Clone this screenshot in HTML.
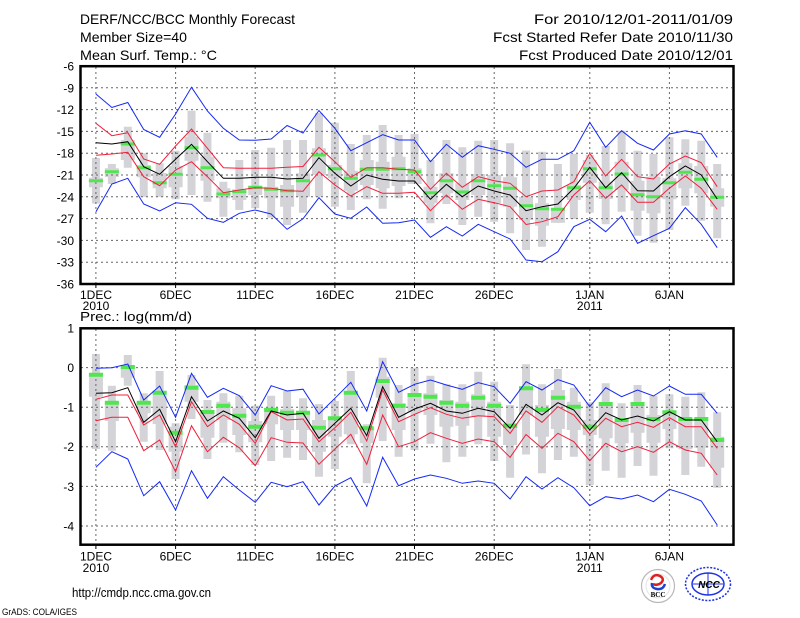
<!DOCTYPE html>
<html><head><meta charset="utf-8"><style>
html,body{margin:0;padding:0;background:#fff;}
svg{display:block;}
text{font-family:"Liberation Sans",sans-serif;fill:#000;}
</style></head><body>
<svg width="800" height="618" viewBox="0 0 800 618" xmlns="http://www.w3.org/2000/svg">
<rect width="800" height="618" fill="#fff"/>
<!-- Header -->
<g font-size="14">
<text x="80" y="24" textLength="215" lengthAdjust="spacingAndGlyphs">DERF/NCC/BCC Monthly Forecast</text>
<text x="80" y="42" textLength="107" lengthAdjust="spacingAndGlyphs">Member Size=40</text>
<text x="80" y="60" textLength="137" lengthAdjust="spacingAndGlyphs">Mean Surf. Temp.: °C</text>
<text x="534" y="24" textLength="199" lengthAdjust="spacingAndGlyphs">For 2010/12/01-2011/01/09</text>
<text x="493" y="42" textLength="240" lengthAdjust="spacingAndGlyphs">Fcst Started Refer Date 2010/11/30</text>
<text x="519" y="60" textLength="214" lengthAdjust="spacingAndGlyphs">Fcst Produced Date 2010/12/01</text>
</g>

<!-- ===== TOP CHART ===== -->
<g transform="translate(95.93,0) scale(15.93,1)" fill="none">
<path vector-effect="non-scaling-stroke" stroke="#d4d4d8" stroke-width="8" d="M0 158V203.5M1 164V184M2 126.7V167.7M3 153.3V196.7M4 163.3V196.7M5 150.7V199.3M6 110.7V195M7 132.7V201.7M8 181.7V216.7M9 160V210M10 150V208.3M11 147.7V217.7M12 140V225M13 140V212.7M14 113V196.7M15 122.7V206.7M16 144V210M17 135V199.3M18 125V208.7M19 135V198.3M20 134V183.3M21 160V223.3M22 140V204M23 147.3V225M24 140.7V216.7M25 140V221.7M26 143.3V233.3M27 150.5V250M28 151.7V246.7M29 164V222.7M30 154V219M31 155V212.7M32 146V224.3M33 130.7V211.7M34 150.7V235.7M35 154V242.7M36 137.3V230M37 139.3V205.7M38 140.7V220.7M39 164V238.3"/>
<path vector-effect="non-scaling-stroke" stroke="#d4d4d8" stroke-width="14" d="M0 177.7V187.3M1 168.3V177M2 140V160M3 165V177.3M4 173V188.3M5 166V187.3M6 136.7V160.7M7 156.7V180.7M8 188.3V198.3M9 189.3V200M10 186V195M11 186.7V198.3M12 185V206.7M13 173.3V196.7M14 148.3V175M15 165V178.3M16 170.7V190.7M17 160V185M18 161.7V188.3M19 156.7V186M20 168.3V184M21 186.7V203.3M22 173.3V193.3M23 183.3V200M24 174V195M25 175V203.3M26 177.3V206.7M27 197V220M28 203.3V225.7M29 208.3V222.7M30 185V200M31 160V182.7M32 181.7V199M33 161.7V190M34 180.7V210.7M35 176.7V213.3M36 178.3V199.3M37 163.3V188.3M38 166V193.3M39 188.3V206.7"/>
</g>
<!-- top grid -->
<g stroke="#666" stroke-width="1" stroke-dasharray="2,3" fill="none">
<path d="M81 87.8H732M81 109.6H732M81 131.4H732M81 153.2H732M81 175H732M81 196.8H732M81 218.6H732M81 240.4H732M81 262.2H732"/>
<path d="M95.9 67V283M175.6 67V283M255.2 67V283M334.9 67V283M414.5 67V283M494.2 67V283M589.8 67V283M669.4 67V283"/>
</g>
<g transform="translate(95.93,0) scale(15.93,1)" fill="none">
<path vector-effect="non-scaling-stroke" stroke="#50e650" stroke-width="3" d="M-.44 180.7h.88M.56 171.7h.88M1.56 144h.88M2.56 167.7h.88M3.56 182.7h.88M4.56 174.3h.88M5.56 147.7h.88M6.56 167.7h.88M7.56 194h.88M8.56 191.7h.88M9.56 187.3h.88M10.56 189.3h.88M11.56 190.7h.88M12.56 180.7h.88M13.56 155h.88M14.56 168.7h.88M15.56 178.3h.88M16.56 169.3h.88M17.56 169.3h.88M18.56 168.7h.88M19.56 171.7h.88M20.56 192.7h.88M21.56 180.7h.88M22.56 192h.88M23.56 180.7h.88M24.56 185.7h.88M25.56 188.3h.88M26.56 205.7h.88M27.56 208.7h.88M28.56 209.3h.88M29.56 187.7h.88M30.56 168.7h.88M31.56 187.7h.88M32.56 174h.88M33.56 194.7h.88M34.56 196.7h.88M35.56 182.7h.88M36.56 172.3h.88M37.56 179.3h.88M38.56 197.3h.88"/>
<polyline vector-effect="non-scaling-stroke" stroke="#1428f5" stroke-width="1" points="0,94 1,107.5 2,102.5 3,129.5 4,137.3 5,114 6,87.3 7,111 8,128.3 9,140 10,140.3 11,139 12,125.5 13,133 14,110.5 15,128.3 16,150.7 17,142.7 18,134.7 19,140 20,140 21,161.7 22,144.3 23,157.3 24,145.7 25,149.3 26,153.3 27,167.3 28,159.3 29,159.3 30,150.7 31,122.3 32,147.3 33,130.7 34,143.3 35,150 36,134 37,130.7 38,134 39,157.3"/>
<polyline vector-effect="non-scaling-stroke" stroke="#1428f5" stroke-width="1" points="0,211.7 1,184 2,178.3 3,204 4,211 5,202.7 6,204.3 7,218.3 8,222.3 9,213.3 10,210 11,214 12,229.3 13,218.8 14,197.7 15,214 16,218.3 17,207 18,223.3 19,222.7 20,220 21,237.3 22,226.7 23,236 24,224.3 25,231.7 26,239 27,260 28,261.7 29,251.7 30,226.7 31,219.3 32,231.7 33,216 34,243.3 35,235.7 36,228.3 37,207.7 38,224.3 39,247.7"/>
<polyline vector-effect="non-scaling-stroke" stroke="#f0203c" stroke-width="1" points="0,123.3 1,135.7 2,132.7 3,159 4,164.3 5,146 6,129 7,148.3 8,167.7 9,168.3 10,168.3 11,168.3 12,167.3 13,166.5 14,147.3 15,161.7 16,177.3 17,167.7 18,167.7 19,169.3 20,170 21,189.3 22,173.3 23,187.3 24,176.7 25,180.7 26,183.3 27,196.7 28,191 29,190 30,181.7 31,153.3 32,176 33,159.3 34,176.7 35,179 36,164 37,156 38,162.7 39,186.7"/>
<polyline vector-effect="non-scaling-stroke" stroke="#f0203c" stroke-width="1" points="0,155.3 1,154 2,152.3 3,176.7 4,185.7 5,170 6,161.7 7,176.7 8,192.7 9,190 10,187.7 11,188.3 12,190.7 13,191.2 14,171.7 15,185 16,196 17,186.7 18,193.3 19,193.3 20,192.3 21,210.7 22,195 23,209.3 24,199.3 25,202.7 26,206.7 27,224.5 28,221.7 29,216.7 30,195 31,180.7 32,198.3 33,185 34,202.3 35,202.3 36,188.3 37,176 38,188.3 39,209.3"/>
<polyline vector-effect="non-scaling-stroke" stroke="#000" stroke-width="1" points="0,142.7 1,144 2,141.7 3,166.7 4,174.3 5,159.3 6,144.3 7,161.7 8,178.3 9,178.3 10,177.3 11,177.3 12,179 13,178.3 14,157.7 15,173.3 16,186 17,175 18,179.3 19,181 20,181 21,199.3 22,184.3 23,196.7 24,186 25,191 26,195 27,210.7 28,206.7 29,204 30,188.3 31,167.3 32,187.7 33,172.7 34,190.7 35,191 36,176.7 37,166 38,175 39,199"/>
</g>
<rect x="80.5" y="66.2" width="653" height="217.8" fill="none" stroke="#000" stroke-width="2.5"/>
<path d="M95.9 285V288M175.6 285V288M255.2 285V288M334.9 285V288M414.5 285V288M494.2 285V288M589.8 285V288M669.4 285V288" stroke="#000" stroke-width="1"/>
<g font-size="12" text-anchor="end">
<text x="74" y="70.5">-6</text><text x="74" y="92.3">-9</text><text x="74" y="114.1">-12</text><text x="74" y="135.9">-15</text><text x="74" y="157.7">-18</text><text x="74" y="179.5">-21</text><text x="74" y="201.3">-24</text><text x="74" y="223.1">-27</text><text x="74" y="244.9">-30</text><text x="74" y="266.7">-33</text><text x="74" y="288.5">-36</text>
</g>
<g font-size="12" text-anchor="middle">
<text x="96" y="299">1DEC</text><text x="96" y="310">2010</text>
<text x="175.6" y="299">6DEC</text><text x="255.2" y="299">11DEC</text><text x="334.9" y="299">16DEC</text><text x="414.5" y="299">21DEC</text><text x="494.2" y="299">26DEC</text>
<text x="589.8" y="299">1JAN</text><text x="589.8" y="310">2011</text><text x="669.4" y="299">6JAN</text>
</g>

<!-- ===== BOTTOM CHART ===== -->
<text x="80" y="321" font-size="13" textLength="112" lengthAdjust="spacingAndGlyphs">Prec.: log(mm/d)</text>
<g transform="translate(95.93,0) scale(15.93,1)" fill="none">
<path vector-effect="non-scaling-stroke" stroke="#d4d4d8" stroke-width="8" d="M0 354V449M1 385.7V450.7M2 355V385.7M3 393.3V441.7M4 371V450M5 423.3V479M6 375V419M7 400V459M8 393.3V442.7M9 395.7V452.3M10 405.7V465M11 395.7V461M12 391V457.7M13 398.3V460M14 404V476.7M15 401V469M16 371V444.3M17 424.3V483.3M18 357.7V441M19 385V456.7M20 367.7V450M21 375.7V443.7M22 384.3V462.3M23 384.3V456.7M24 371.7V444.3M25 381.7V461M26 405V477.7M27 364.3V454.5M28 384.3V473.3M29 369V460M30 387.7V456.7M31 402.3V485M32 383.3V470.7M33 403.3V477.7M34 385V466M35 395.7V475.7M36 394.3V448.3M37 396.7V475M38 392.3V466.7M39 412.3V487.7"/>
<path vector-effect="non-scaling-stroke" stroke="#d4d4d8" stroke-width="14" d="M0 373.3V396.7M1 401.7V421M2 365V377.7M3 401.7V413.3M4 391V424M5 426.7V451.7M6 385V401.7M7 410V437.7M8 401.7V420M9 408.3V435M10 421V442.3M11 407.7V424.3M12 409V430M13 411.7V430M14 420V451.7M15 418.3V436.7M16 391V434.3M17 428.3V443.3M18 376.7V397.7M19 403.3V430M20 393.3V411.7M21 393.3V415M22 400V426.7M23 401.7V425.7M24 394.3V416.7M25 401.7V436.7M26 423.3V445M27 387V415M28 405V436.7M29 390V429M30 401.7V430M31 420V435M32 405V438.3M33 421.7V443.3M34 405V432.7M35 415V442.7M36 411V429M37 418.3V449.3M38 418.3V447.7M39 436.7V467.7"/>
</g>
<g stroke="#666" stroke-width="1" stroke-dasharray="2,3" fill="none">
<path d="M81 367.6H732M81 407.2H732M81 446.8H732M81 486.4H732M81 526H732"/>
<path d="M95.9 329V544M175.6 329V544M255.2 329V544M334.9 329V544M414.5 329V544M494.2 329V544M589.8 329V544M669.4 329V544"/>
</g>
<g transform="translate(95.93,0) scale(15.93,1)" fill="none">
<path vector-effect="non-scaling-stroke" stroke="#50e650" stroke-width="4" d="M-.44 374.7h.88M.56 402.7h.88M1.56 367h.88M2.56 402.7h.88M3.56 392.7h.88M4.56 432.7h.88M5.56 387.7h.88M6.56 412h.88M7.56 405.7h.88M8.56 415.7h.88M9.56 426.7h.88M10.56 410h.88M11.56 412.7h.88M12.56 412.7h.88M13.56 427.7h.88M14.56 418.3h.88M15.56 392.7h.88M16.56 428.3h.88M17.56 381h.88M18.56 405.7h.88M19.56 395h.88M20.56 396.7h.88M21.56 402.7h.88M22.56 405.7h.88M23.56 397.7h.88M24.56 405.7h.88M25.56 425.7h.88M26.56 388.3h.88M27.56 410h.88M28.56 397.7h.88M29.56 406.7h.88M30.56 426.7h.88M31.56 404h.88M32.56 420h.88M33.56 404h.88M34.56 419h.88M35.56 412.3h.88M36.56 419h.88M37.56 419h.88M38.56 440h.88"/>
<polyline vector-effect="non-scaling-stroke" stroke="#1428f5" stroke-width="1" points="0,368.3 1,367.7 2,364 3,400 4,386 5,417.3 6,373.3 7,397.3 8,388.3 9,395.7 10,415 11,385.7 12,391 13,389.2 14,414 15,398.3 16,382.3 17,411 18,361.7 19,392.3 20,384.3 21,380 22,385 23,389.3 24,382.7 25,386.7 26,403.3 27,381.7 28,390 29,379.7 30,385 31,406.7 32,387.7 33,396.7 34,390 35,396 36,386 37,394.3 38,394.3 39,413.3"/>
<polyline vector-effect="non-scaling-stroke" stroke="#1428f5" stroke-width="1" points="0,467.3 1,451.7 2,459 3,495.7 4,481.7 5,510 6,470.7 7,498.3 8,476.7 9,490 10,502.3 11,482.3 12,486.7 13,481.7 14,505 15,486 16,477.7 17,506 18,457.3 19,485.7 20,479 21,475 22,478.3 23,483.3 24,481 25,483.3 26,499 27,476.7 28,489 29,477.7 30,487.7 31,505.7 32,496.7 33,499 34,495 35,501.7 36,489.3 37,494.3 38,501 39,525"/>
<polyline vector-effect="non-scaling-stroke" stroke="#f0203c" stroke-width="1" points="0,399.3 1,395 2,395 3,425 4,415 5,446.7 6,401.7 7,426.7 8,415 9,424.3 10,443.3 11,411.7 12,420 13,419 14,441.7 15,427.7 16,412.3 17,441 18,390 19,421.7 20,414.3 21,407.7 22,414.3 23,418.3 24,415.7 25,416.7 26,433.3 27,411 28,422.3 29,406.7 30,415 31,434.3 32,418.3 33,426.7 34,422.3 35,427.3 36,417.7 37,426.7 38,426.7 39,448.3"/>
<polyline vector-effect="non-scaling-stroke" stroke="#f0203c" stroke-width="1" points="0,420.7 1,417.3 2,417.3 3,450.7 4,440 5,471.7 6,425.7 7,451.7 8,437.3 9,447.7 10,465.7 11,437.7 12,442.3 13,443 14,464.3 15,449 16,434.3 17,464.3 18,415 19,446.7 20,441.7 21,432.7 22,438.3 23,443.3 24,439 25,441.7 26,457.3 27,434.5 28,448.3 29,433.3 30,441.7 31,460.7 32,443.3 33,451.7 34,446.7 35,452.3 36,441.7 37,450 38,453.3 39,475"/>
<polyline vector-effect="non-scaling-stroke" stroke="#000" stroke-width="1" points="0,393.3 1,392.7 2,387.7 3,422.3 4,409.3 5,441.7 6,396.7 7,421 8,411 9,418.3 10,437.7 11,411 12,415 13,413.3 14,438.3 15,423.3 16,408.3 17,435.7 18,386.7 19,417.3 20,409 21,403.3 22,411 23,413.3 24,408.3 25,411.7 26,428.3 27,404.3 28,415 29,402.7 30,410 31,430 32,412.7 33,420 34,416 35,421 36,411.7 37,420 38,420 39,441.7"/>
</g>
<rect x="80.5" y="328.3" width="653" height="216.4" fill="none" stroke="#000" stroke-width="2.5"/>
<path d="M95.9 546V549M175.6 546V549M255.2 546V549M334.9 546V549M414.5 546V549M494.2 546V549M589.8 546V549M669.4 546V549" stroke="#000" stroke-width="1"/>
<g font-size="12" text-anchor="end">
<text x="74" y="332.5">1</text><text x="74" y="372">0</text><text x="74" y="411.6">-1</text><text x="74" y="451.2">-2</text><text x="74" y="490.8">-3</text><text x="74" y="530.4">-4</text>
</g>
<g font-size="12" text-anchor="middle">
<text x="96" y="560.5">1DEC</text><text x="96" y="572">2010</text>
<text x="175.6" y="560.5">6DEC</text><text x="255.2" y="560.5">11DEC</text><text x="334.9" y="560.5">16DEC</text><text x="414.5" y="560.5">21DEC</text><text x="494.2" y="560.5">26DEC</text>
<text x="589.8" y="560.5">1JAN</text><text x="589.8" y="572">2011</text><text x="669.4" y="560.5">6JAN</text>
</g>

<!-- Footer -->
<text x="72" y="597" font-size="13" textLength="139" lengthAdjust="spacingAndGlyphs">http://cmdp.ncc.cma.gov.cn</text>
<text x="2" y="615" font-size="9.5" textLength="75" lengthAdjust="spacingAndGlyphs">GrADS: COLA/IGES</text>

<!-- BCC logo -->
<g>
<circle cx="658" cy="586" r="16.5" fill="#fff" stroke="#b8b8b8" stroke-width="1.2"/>
<circle cx="658" cy="586" r="12" fill="none" stroke="#e4e4e4" stroke-width="1"/>
<path d="M651 580 q3 -7 9 -4 q5 3 1 7 q-4 3 -8 1" fill="none" stroke="#e02020" stroke-width="2.5"/>
<path d="M665 584 q-2 6 -8 5 q-6 -1 -5 -6" fill="none" stroke="#2040d0" stroke-width="2.5"/>
<text x="658" y="597" font-size="7" text-anchor="middle" font-family="Liberation Serif,serif" font-weight="bold" style="font-family:'Liberation Serif',serif">BCC</text>
</g>
<!-- NCC logo -->
<g fill="none" stroke="#1e32e6">
<ellipse cx="708" cy="584" rx="22.5" ry="16.5" stroke-width="1.5" stroke-dasharray="2,1.5"/>
<ellipse cx="708" cy="584" rx="16" ry="11" stroke-width="1.5"/>
<path d="M693 584 H723 M708 573 V595" stroke-width="1"/>
<text x="709" y="588" font-size="10" font-weight="bold" font-style="italic" text-anchor="middle" fill="#1e32e6" stroke="none">NCC</text>
</g>
</svg>
</body></html>
